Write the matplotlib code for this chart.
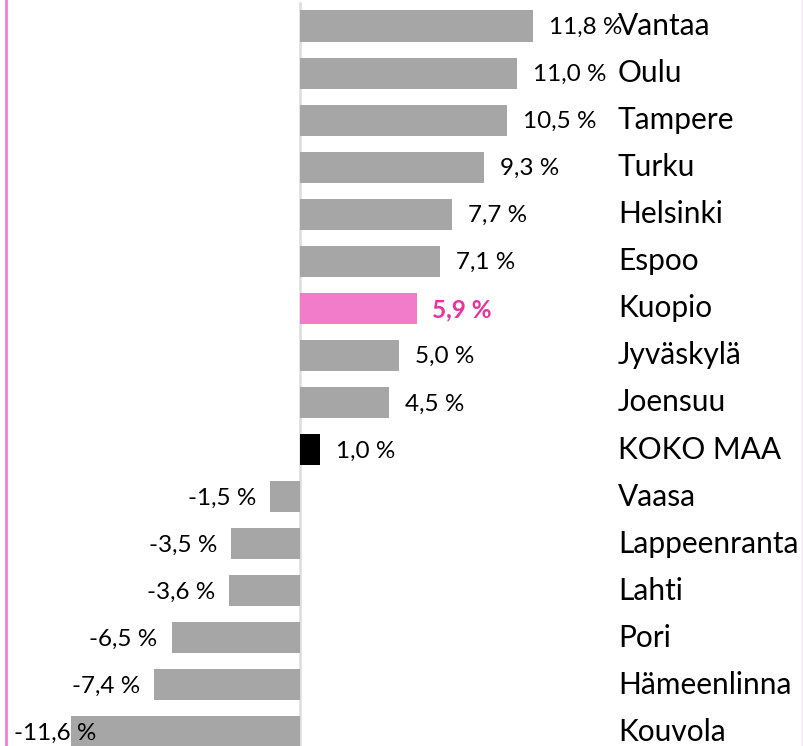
import matplotlib.pyplot as plt
from matplotlib.lines import Line2D
import matplotlib.transforms as mtransforms

# Data
cities = ['Vantaa', 'Oulu', 'Tampere', 'Turku', 'Helsinki', 'Espoo', 'Kuopio',
          'Jyväskylä', 'Joensuu', 'KOKO MAA', 'Vaasa', 'Lappeenranta', 'Lahti',
          'Pori', 'Hämeenlinna', 'Kouvola']
changes = [11.8, 11.0, 10.5, 9.3, 7.7, 7.1, 5.9, 5.0, 4.5, 1.0, -1.5, -3.5,
           -3.6, -6.5, -7.4, -11.6]

GRAY = '#a6a6a6'
PINK_BAR = '#f27cc9'
PINK_TXT = '#e6339e'

plt.rcParams['font.family'] = ['Lato', 'DejaVu Sans']

fig = plt.figure(figsize=(8.04, 7.46), dpi=100)
ax = fig.add_axes([0, 0, 1, 1])

colors = []
for c in cities:
    if c == 'Kuopio':
        colors.append(PINK_BAR)
    elif c == 'KOKO MAA':
        colors.append('black')
    else:
        colors.append(GRAY)

ypos = list(range(len(cities)))
ax.barh(ypos, changes, height=0.66, color=colors, zorder=2)

ax.set_xlim(-15.19, 25.52)
ax.set_ylim(15.3, -0.552)
ax.axis('off')

# zero line
ax.axvline(0, ymin=0, ymax=1 - 3 / 746, color='#dcdcdc', lw=1.8, zorder=1)

# value labels
for i, (c, v) in enumerate(zip(cities, changes)):
    txt = f'{v:.1f} %'.replace('.', ',')
    kw = dict(fontsize=17.5, va='center', color='black')
    if c == 'Kuopio':
        kw.update(color=PINK_TXT, fontweight='bold')
    if v >= 0:
        ax.annotate(txt, xy=(v, i + 0.03), xytext=(11.5, 0), textcoords='offset points',
                    ha='left', **kw)
    elif v < -10:
        ax.annotate(txt, xy=(-15.19, i + 0.03), xytext=(10, 0), textcoords='offset points',
                    ha='left', **kw)
    else:
        ax.annotate(txt, xy=(v, i + 0.03), xytext=(-10, 0), textcoords='offset points',
                    ha='right', **kw)

# category labels
trans = mtransforms.blended_transform_factory(ax.transAxes, ax.transData)
for i, c in enumerate(cities):
    ax.text(618 / 804, i, c, transform=trans, fontsize=21.5, va='center', ha='left')

# pink frame line at left edge, faint line at right
fig.add_artist(Line2D([6 / 804, 6 / 804], [0, 1], color='#f47fcf', lw=2))
fig.add_artist(Line2D([802 / 804, 802 / 804], [0, 1], color='#f7e4ef', lw=1))

fig.savefig('out.png', dpi=100)
